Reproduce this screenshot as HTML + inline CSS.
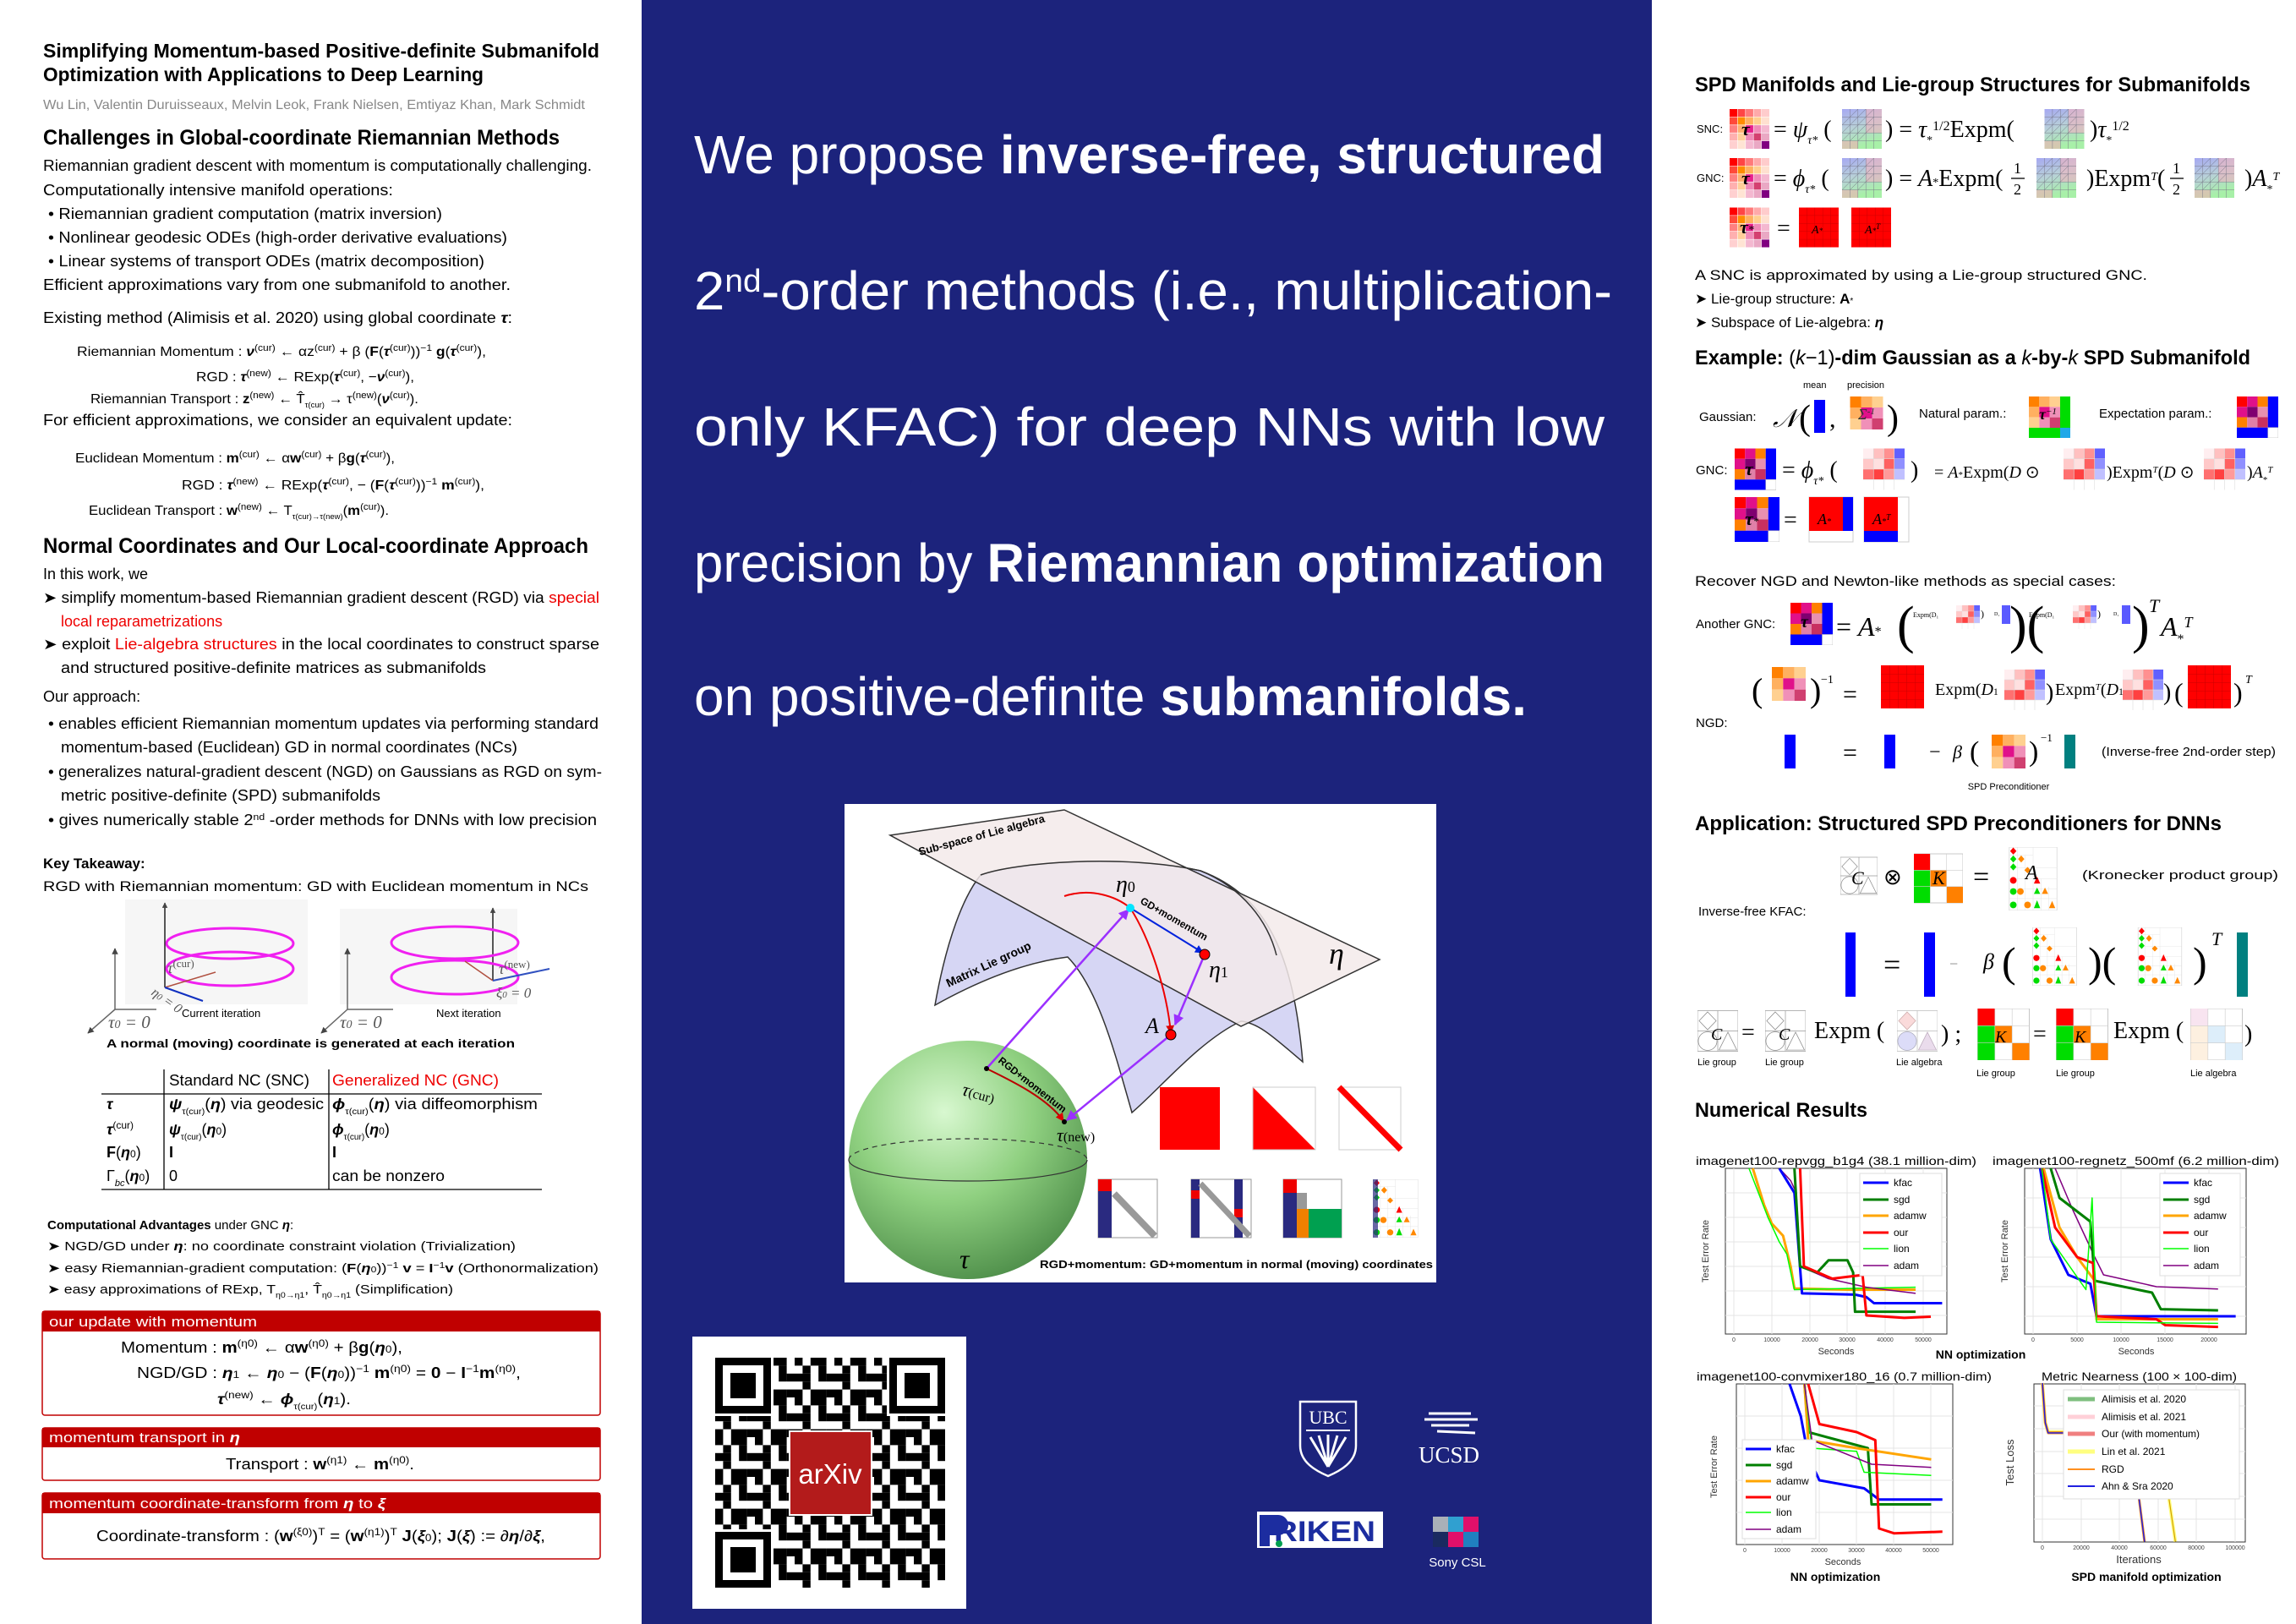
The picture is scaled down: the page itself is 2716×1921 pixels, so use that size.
<!DOCTYPE html>
<html><head><meta charset="utf-8"><style>
html,body{margin:0;padding:0;background:#fff}
body{width:2716px;height:1921px;overflow:hidden;position:relative}
svg{position:absolute;left:0;top:0}
</style></head><body>
<svg width="2716" height="1921" viewBox="0 0 2716 1921" xmlns="http://www.w3.org/2000/svg" font-family="Liberation Sans, sans-serif">
<defs>
<path id="g5" d="M1 0V5M2 0V5M3 0V5M4 0V5M0 1H5M0 2H5M0 3H5M0 4H5" fill="none"/>
<symbol id="tau" viewBox="0 0 5 5">
<rect x="0" y="0" width="1" height="1" fill="#ff0000"/><rect x="1" y="0" width="1" height="1" fill="#ff4545"/><rect x="2" y="0" width="1" height="1" fill="#ff7a7a"/><rect x="3" y="0" width="1" height="1" fill="#ffaaaa"/><rect x="4" y="0" width="1" height="1" fill="#ffcccc"/>
<rect x="0" y="1" width="1" height="1" fill="#ff4a3a"/><rect x="1" y="1" width="1" height="1" fill="#ff8c00"/><rect x="2" y="1" width="1" height="1" fill="#ffb060"/><rect x="3" y="1" width="1" height="1" fill="#ffcf90"/><rect x="4" y="1" width="1" height="1" fill="#ffe0d0"/>
<rect x="0" y="2" width="1" height="1" fill="#ff8080"/><rect x="1" y="2" width="1" height="1" fill="#ffb070"/><rect x="2" y="2" width="1" height="1" fill="#e8208c"/><rect x="3" y="2" width="1" height="1" fill="#f08ab8"/><rect x="4" y="2" width="1" height="1" fill="#f4b8d0"/>
<rect x="0" y="3" width="1" height="1" fill="#ffb0b0"/><rect x="1" y="3" width="1" height="1" fill="#ffcf9a"/><rect x="2" y="3" width="1" height="1" fill="#f08ab8"/><rect x="3" y="3" width="1" height="1" fill="#d44070"/><rect x="4" y="3" width="1" height="1" fill="#eaa8c4"/>
<rect x="0" y="4" width="1" height="1" fill="#ffd0d0"/><rect x="1" y="4" width="1" height="1" fill="#ffe4d4"/><rect x="2" y="4" width="1" height="1" fill="#f4b8d0"/><rect x="3" y="4" width="1" height="1" fill="#eaa8c4"/><rect x="4" y="4" width="1" height="1" fill="#800080"/>
<use href="#g5" stroke="#fff" stroke-width="0.06"/>
</symbol>
<linearGradient id="lg" x1="0" y1="0" x2="0.3" y2="1"><stop offset="0" stop-color="#a6a8f2"/><stop offset="0.5" stop-color="#b8d0d8"/><stop offset="1" stop-color="#a8f0a8"/></linearGradient>
<symbol id="lie" viewBox="0 0 5 5">
<rect width="5" height="5" fill="url(#lg)"/>
<rect x="3" y="0" width="2" height="3" fill="#f0b0c0" opacity="0.6"/>
<rect x="0" y="4" width="2" height="1" fill="#f0b0b0" opacity="0.6"/>
<path d="M0 2L2 0M0 3L3 0M0 4L4 0M1 4L4 1M2 4L4 2" stroke="#556" stroke-width="0.04"/>
<use href="#g5" stroke="#778" stroke-width="0.05"/>
</symbol>
<symbol id="red" viewBox="0 0 5 5"><rect width="5" height="5" fill="#ff0000"/><use href="#g5" stroke="#c00" stroke-width="0.05"/></symbol>
<symbol id="pink" viewBox="0 0 4 4">
<rect width="4" height="4" fill="#fff"/>
<rect x="0" y="0" width="1" height="1" fill="#ffeef0"/><rect x="1" y="0" width="1" height="1" fill="#ffc0c0"/><rect x="2" y="0" width="1" height="1" fill="#ff9090"/><rect x="3" y="0" width="1" height="1" fill="#6060ff"/>
<rect x="0" y="1" width="1" height="1" fill="#ffc8c8"/><rect x="1" y="1" width="1" height="1" fill="#ffe0e0"/><rect x="2" y="1" width="1" height="1" fill="#ff6060"/><rect x="3" y="1" width="1" height="1" fill="#9090ff"/>
<rect x="0" y="2" width="1" height="1" fill="#ff7070"/><rect x="1" y="2" width="1" height="1" fill="#ff4040"/><rect x="2" y="2" width="1" height="1" fill="#ff9a9a"/><rect x="3" y="2" width="1" height="1" fill="#c0c0ff"/>
<path d="M1 0V4M2 0V4M3 0V4M0 1H4M0 2H4M0 3H4" stroke="#ddd" stroke-width="0.05"/>
</symbol>
<symbol id="g4" viewBox="0 0 4 4">
<rect width="4" height="4" fill="#fff"/>
<rect x="0" y="0" width="1" height="1" fill="#ff0000"/><rect x="1" y="0" width="1" height="1" fill="#e0108a"/><rect x="2" y="0" width="1" height="1" fill="#ff8000"/>
<rect x="0" y="1" width="1" height="1" fill="#e0108a"/><rect x="1" y="1" width="1" height="1" fill="#800070"/><rect x="2" y="1" width="1" height="1" fill="#e890b0"/>
<rect x="0" y="2" width="1" height="1" fill="#ff8000"/><rect x="1" y="2" width="1" height="1" fill="#e080a8"/><rect x="2" y="2" width="1" height="1" fill="#c83060"/>
<rect x="3" y="0" width="1" height="3" fill="#0000ff"/><rect x="0" y="3" width="3" height="1" fill="#0000ff"/>
<rect x="3" y="3" width="1" height="1" fill="#fff" stroke="#bbb" stroke-width="0.05"/>
</symbol>
<symbol id="pre" viewBox="0 0 3 3">
<rect x="0" y="0" width="1" height="1" fill="#ff8000"/><rect x="1" y="0" width="1" height="1" fill="#ffb060"/><rect x="2" y="0" width="1" height="1" fill="#ffd090"/>
<rect x="0" y="1" width="1" height="1" fill="#ffb060"/><rect x="1" y="1" width="1" height="1" fill="#e0108a"/><rect x="2" y="1" width="1" height="1" fill="#f090b8"/>
<rect x="0" y="2" width="1" height="1" fill="#ffd090"/><rect x="1" y="2" width="1" height="1" fill="#f090b8"/><rect x="2" y="2" width="1" height="1" fill="#d04070"/>
</symbol>
<symbol id="Cm" viewBox="0 0 10 10">
<rect width="10" height="10" fill="#fff" stroke="#999" stroke-width="0.15"/>
<path d="M5 0V10M0 5H10" stroke="#999" stroke-width="0.15"/>
<path d="M2.5 0.3L4.6 2.5L2.5 4.7L0.4 2.5Z" fill="none" stroke="#888" stroke-width="0.15"/>
<circle cx="2.5" cy="7.5" r="2.3" fill="none" stroke="#888" stroke-width="0.15"/>
<path d="M7.5 5.3L9.7 9.7H5.3Z" fill="none" stroke="#888" stroke-width="0.15"/>
</symbol>
<symbol id="Cl" viewBox="0 0 10 10">
<rect width="10" height="10" fill="#fff" stroke="#bbb" stroke-width="0.15"/>
<path d="M5 0V10M0 5H10" stroke="#bbb" stroke-width="0.15"/>
<path d="M2.5 0.3L4.6 2.5L2.5 4.7L0.4 2.5Z" fill="#fadada" stroke="#caa" stroke-width="0.15"/>
<circle cx="2.5" cy="7.5" r="2.3" fill="#dcdcf8" stroke="#aab" stroke-width="0.15"/>
<path d="M7.5 5.3L9.7 9.7H5.3Z" fill="#eadcec" stroke="#bab" stroke-width="0.15"/>
</symbol>
<symbol id="Km" viewBox="0 0 3 3">
<rect width="3" height="3" fill="#fff" stroke="#bbb" stroke-width="0.04"/>
<rect x="0" y="0" width="1" height="1" fill="#ff0000"/><rect x="0" y="1" width="1" height="2" fill="#00dd00"/>
<rect x="1" y="1" width="1" height="1" fill="#ff8000"/><rect x="2" y="2" width="1" height="1" fill="#ff8000"/>
<path d="M1 0V3M2 0V3M0 1H3M0 2H3" stroke="#ccc" stroke-width="0.03"/>
</symbol>
<symbol id="Kl" viewBox="0 0 3 3">
<rect width="3" height="3" fill="#fff" stroke="#bbb" stroke-width="0.04"/>
<rect x="0" y="0" width="1" height="1" fill="#f8e4f0"/><rect x="0" y="1" width="1" height="2" fill="#fdf0e0"/>
<rect x="1" y="1" width="1" height="1" fill="#ddeefa"/><rect x="2" y="2" width="1" height="1" fill="#ddeefa"/>
<path d="M1 0V3M2 0V3M0 1H3M0 2H3" stroke="#ccc" stroke-width="0.03"/>
</symbol>
<symbol id="Am" viewBox="0 0 6 8">
<rect width="6" height="8" fill="#fff" stroke="#bbb" stroke-width="0.05"/>
<path d="M3 0V8M0 2.6H6M0 5.3H6M1 0V8M2 1V8M4 4V8M5 5V8M0 1H3M0 4H6M0 6.5H6" stroke="#ddd" stroke-width="0.04"/>
<path d="M0.5 0.05L0.9 0.5L0.5 0.95L0.1 0.5Z" fill="#f00"/>
<path d="M0.5 1.05L0.9 1.5L0.5 1.95L0.1 1.5Z" fill="#0d0"/><path d="M1.5 1.05L1.9 1.5L1.5 1.95L1.1 1.5Z" fill="#f80"/>
<path d="M0.5 2.05L0.9 2.5L0.5 2.95L0.1 2.5Z" fill="#0d0"/><path d="M2.3 2.5L2.7 2.9L2.3 3.3L1.9 2.9Z" fill="#f80"/>
<circle cx="0.5" cy="4.2" r="0.42" fill="#f00"/><path d="M3.5 3.7L3.9 4.6H3.1Z" fill="#f00"/>
<circle cx="0.5" cy="5.6" r="0.42" fill="#0d0"/><circle cx="1.4" cy="5.6" r="0.42" fill="#f80"/><path d="M3.5 5.1L3.9 5.9H3.1Z" fill="#0d0"/><path d="M4.5 5.1L4.9 5.9H4.1Z" fill="#f80"/>
<circle cx="0.5" cy="7.3" r="0.42" fill="#0d0"/><circle cx="2.3" cy="7.3" r="0.42" fill="#f80"/><path d="M3.5 6.7L3.9 7.7H3.1Z" fill="#0d0"/><path d="M5.4 6.8L5.8 7.7H5Z" fill="#f80"/>
</symbol>
<pattern id="qr" x="846" y="1606" width="47" height="47" patternUnits="userSpaceOnUse">
<rect x="0" y="0" width="9.4" height="9.4"/><rect x="18.8" y="0" width="18.8" height="9.4"/><rect x="9.4" y="9.4" width="9.4" height="9.4"/><rect x="28.2" y="9.4" width="9.4" height="18.8"/><rect x="0" y="18.8" width="18.8" height="9.4"/><rect x="37.6" y="18.8" width="9.4" height="9.4"/><rect x="9.4" y="28.2" width="9.4" height="9.4"/><rect x="18.8" y="37.6" width="18.8" height="9.4"/><rect x="0" y="37.6" width="9.4" height="9.4"/><rect x="37.6" y="37.6" width="9.4" height="9.4"/>
</pattern>
<radialGradient id="sph" cx="0.4" cy="0.3" r="0.75"><stop offset="0" stop-color="#d8f8d0"/><stop offset="0.5" stop-color="#8fd080"/><stop offset="1" stop-color="#4c8c48"/></radialGradient>
<marker id="ap" viewBox="0 0 10 10" refX="9" refY="5" markerWidth="5" markerHeight="5" orient="auto"><path d="M0 0L10 5L0 10Z" fill="#9b30ff"/></marker>
<marker id="ab" viewBox="0 0 10 10" refX="9" refY="5" markerWidth="5" markerHeight="5" orient="auto"><path d="M0 0L10 5L0 10Z" fill="#0022dd"/></marker>
<marker id="ar" viewBox="0 0 10 10" refX="9" refY="5" markerWidth="5" markerHeight="5" orient="auto"><path d="M0 0L10 5L0 10Z" fill="#d00"/></marker>
<marker id="ak" viewBox="0 0 10 10" refX="9" refY="5" markerWidth="5" markerHeight="5" orient="auto"><path d="M0 0L10 5L0 10Z" fill="#444"/></marker>
</defs>

<!-- middle panel -->
<rect x="759" y="0" width="1195" height="1921" fill="#1c237c"/>
<g fill="#fff" font-size="64">
<text x="821" y="205" textLength="1077" lengthAdjust="spacingAndGlyphs">We propose <tspan font-weight="bold">inverse-free, structured</tspan></text>
<text x="821" y="366" textLength="1086" lengthAdjust="spacingAndGlyphs">2<tspan font-size="38" baseline-shift="super">nd</tspan>-order methods (i.e., multiplication-</text>
<text x="821" y="527" textLength="1077" lengthAdjust="spacingAndGlyphs">only  KFAC)  for  deep  NNs  with  low</text>
<text x="821" y="688" textLength="1077" lengthAdjust="spacingAndGlyphs">precision by <tspan font-weight="bold">Riemannian optimization</tspan></text>
<text x="821" y="846" textLength="985" lengthAdjust="spacingAndGlyphs">on positive-definite <tspan font-weight="bold">submanifolds.</tspan></text>
</g>

<!-- middle figure -->
<rect x="999" y="951" width="700" height="566" fill="#fff"/>
<path d="M1106 1189 C1120 1110 1140 1060 1160 1035 C1200 1020 1330 1010 1420 1030 C1500 1060 1530 1130 1541 1256 C1510 1230 1490 1210 1468 1208 C1420 1230 1370 1290 1339 1316 C1320 1250 1300 1170 1263 1132 C1200 1140 1140 1170 1106 1189Z" fill="#d6d6f4" stroke="#333" stroke-width="1.5"/>
<path d="M1053 988 L1259 958 L1632 1135 L1468 1214 Z" fill="#f3eaea" fill-opacity="0.85" stroke="#333" stroke-width="1.5"/>
<path d="M1160 1035 C1200 1020 1330 1010 1420 1030 C1470 1050 1500 1090 1510 1130" fill="none" stroke="#333" stroke-width="1.5"/>
<text x="1088" y="1012" font-size="13" font-weight="bold" transform="rotate(-15 1088 1012)">Sub-space of Lie algebra</text>
<text x="1122" y="1168" font-size="14" font-weight="bold" transform="rotate(-25 1122 1168)">Matrix Lie group</text>
<text x="1320" y="1055" font-size="28" font-family="Liberation Serif, serif" font-style="italic">η<tspan font-size="18" font-style="normal">0</tspan></text>
<text x="1430" y="1156" font-size="28" font-family="Liberation Serif, serif" font-style="italic">η<tspan font-size="18" font-style="normal">1</tspan></text>
<text x="1572" y="1140" font-size="36" font-family="Liberation Serif, serif" font-style="italic">η</text>
<text x="1355" y="1222" font-size="26" font-family="Liberation Serif, serif" font-style="italic">A</text>
<circle cx="1145" cy="1372" r="141" fill="url(#sph)"/>
<path d="M1004 1372 A141 25 0 0 1 1286 1372" fill="none" stroke="#333" stroke-width="1.2" stroke-dasharray="6 5"/>
<path d="M1004 1372 A141 25 0 0 0 1286 1372" fill="none" stroke="#333" stroke-width="1.2"/>
<path d="M1259 1060 C1290 1050 1320 1060 1337 1074 C1360 1110 1380 1170 1385 1222" fill="none" stroke="#e00" stroke-width="2" marker-end="url(#ar)"/>
<path d="M1167 1264 L1335 1076" stroke="#9b30ff" stroke-width="2.5" marker-end="url(#ap)"/>
<path d="M1337 1074 L1423 1127" stroke="#0022dd" stroke-width="2" marker-end="url(#ab)"/>
<path d="M1425 1129 L1390 1212" stroke="#9b30ff" stroke-width="2.5" marker-end="url(#ap)"/>
<path d="M1385 1224 L1262 1325" stroke="#9b30ff" stroke-width="2.5" marker-end="url(#ap)"/>
<path d="M1167 1264 C1200 1280 1240 1300 1258 1326" fill="none" stroke="#b00" stroke-width="2" marker-end="url(#ar)"/>
<circle cx="1337" cy="1074" r="5" fill="#00e5ff"/>
<circle cx="1425" cy="1129" r="6" fill="#f00" stroke="#000"/>
<circle cx="1385" cy="1224" r="6" fill="#f00" stroke="#000"/>
<circle cx="1167" cy="1264" r="3" fill="#000"/><circle cx="1259" cy="1327" r="3" fill="#000"/>
<text x="1348" y="1068" font-size="12" font-weight="bold" transform="rotate(30 1348 1068)">GD+momentum</text>
<text x="1180" y="1256" font-size="12" font-weight="bold" transform="rotate(38 1180 1256)">RGD+momentum</text>
<text x="1137" y="1295" font-size="22" font-family="Liberation Serif, serif" font-style="italic" transform="rotate(15 1137 1295)">τ<tspan font-size="16" font-style="normal">(cur)</tspan></text>
<text x="1250" y="1350" font-size="22" font-family="Liberation Serif, serif" font-style="italic">τ<tspan font-size="16" font-style="normal">(new)</tspan></text>
<text x="1135" y="1500" font-size="32" font-family="Liberation Serif, serif" font-style="italic">τ</text>
<rect x="1372" y="1286" width="71" height="74" fill="#f00"/>
<path d="M1482 1286 V1360 H1556 Z" fill="#f00"/>
<rect x="1482" y="1286" width="74" height="74" fill="none" stroke="#ccc"/>
<rect x="1584" y="1286" width="73" height="74" fill="none" stroke="#ccc"/>
<path d="M1584 1286 L1657 1360" stroke="#f00" stroke-width="7"/>
<rect x="1299" y="1395" width="70" height="69" fill="#fff" stroke="#999"/><rect x="1299" y="1395" width="16" height="14" fill="#e00"/><rect x="1299" y="1409" width="16" height="55" fill="#2a2a80"/><path d="M1318 1412 L1366 1462" stroke="#999" stroke-width="8"/>
<rect x="1409" y="1395" width="71" height="69" fill="#fff" stroke="#999"/><rect x="1409" y="1395" width="10" height="69" fill="#2a2a80"/><rect x="1460" y="1395" width="10" height="69" fill="#2a2a80"/><rect x="1409" y="1408" width="10" height="10" fill="#e00"/><rect x="1460" y="1430" width="10" height="10" fill="#e00"/><path d="M1420 1400 L1478 1462" stroke="#999" stroke-width="7"/>
<rect x="1518" y="1395" width="69" height="69" fill="#fff" stroke="#999"/><rect x="1518" y="1395" width="16" height="16" fill="#e00"/><rect x="1518" y="1411" width="16" height="53" fill="#2a2a80"/><rect x="1534" y="1430" width="14" height="34" fill="#f08000"/><rect x="1548" y="1430" width="39" height="34" fill="#00a050"/><rect x="1534" y="1411" width="12" height="19" fill="#999"/>
<g transform="translate(1624 1395) scale(8.9 8.6)"><use href="#Am" width="6" height="8"/></g>
<rect x="1624" y="1395" width="6" height="69" fill="#2a2a80" opacity="0.7"/>
<text x="1230" y="1500" font-size="13" font-weight="bold" textLength="465" lengthAdjust="spacingAndGlyphs">RGD+momentum: GD+momentum in normal (moving) coordinates</text>

<!-- QR -->
<rect x="819" y="1581" width="324" height="322" fill="#fff"/>
<rect x="846" y="1606" width="272" height="272" fill="url(#qr)"/>
<g>
<rect x="843" y="1603" width="72" height="72" fill="#fff"/><rect x="846" y="1606" width="66" height="66"/><rect x="855" y="1615" width="48" height="48" fill="#fff"/><rect x="864" y="1624" width="30" height="30"/>
<rect x="1049" y="1603" width="72" height="72" fill="#fff"/><rect x="1052" y="1606" width="66" height="66"/><rect x="1061" y="1615" width="48" height="48" fill="#fff"/><rect x="1070" y="1624" width="30" height="30"/>
<rect x="843" y="1809" width="72" height="72" fill="#fff"/><rect x="846" y="1812" width="66" height="66"/><rect x="855" y="1821" width="48" height="48" fill="#fff"/><rect x="864" y="1830" width="30" height="30"/>
</g>
<rect x="934" y="1693" width="97" height="99" fill="#b31b1b" stroke="#fff" stroke-width="2"/>
<text x="982" y="1755" font-size="33" fill="#fff" text-anchor="middle">arXiv</text>

<!-- logos -->
<path d="M1538 1658 H1604 V1710 C1604 1730 1585 1740 1571 1746 C1557 1740 1538 1730 1538 1710 Z" fill="none" stroke="#fff" stroke-width="2.5"/>
<text x="1571" y="1684" font-size="22" fill="#fff" text-anchor="middle" font-family="Liberation Serif, serif">UBC</text>
<path d="M1571 1735 L1550 1700 M1571 1735 L1560 1698 M1571 1735 L1571 1697 M1571 1735 L1582 1698 M1571 1735 L1592 1700" stroke="#fff" stroke-width="3"/>
<path d="M1545 1692 H1597" stroke="#fff" stroke-width="2"/>
<path d="M1690 1672 H1740 M1685 1679 H1748 M1693 1686 H1738 M1700 1693 L1745 1695" stroke="#fff" stroke-width="3"/>
<text x="1714" y="1730" font-size="27" fill="#fff" text-anchor="middle" font-family="Liberation Serif, serif">UCSD</text>
<rect x="1487" y="1788" width="149" height="43" fill="#fff"/>
<text x="1567" y="1823" font-size="34" font-weight="bold" fill="#1c2da0" text-anchor="middle" textLength="120" lengthAdjust="spacingAndGlyphs">RIKEN</text>
<path d="M1490 1792 h22 a12 12 0 0 1 0 24 h-10 v13 h-12 z" fill="#1c2da0"/><circle cx="1513" cy="1826" r="4" fill="#00a050"/>
<g transform="translate(1695 1794)">
<rect x="0" y="0" width="18" height="18" fill="#aab0b8"/><rect x="18" y="0" width="18" height="18" fill="#30a0d0"/><rect x="36" y="0" width="18" height="18" fill="#e0106a"/>
<rect x="0" y="18" width="18" height="18" fill="#1a2a60"/><rect x="18" y="18" width="18" height="18" fill="#e0106a"/><rect x="36" y="18" width="18" height="18" fill="#2080c0"/>
</g>
<text x="1724" y="1853" font-size="15" fill="#fff" text-anchor="middle">Sony CSL</text>

<!-- ================= LEFT COLUMN ================= -->
<g fill="#000">
<text x="51" y="68" font-size="23" font-weight="bold" textLength="658" lengthAdjust="spacingAndGlyphs">Simplifying  Momentum-based  Positive-definite  Submanifold</text>
<text x="51" y="96" font-size="23" font-weight="bold" textLength="521" lengthAdjust="spacingAndGlyphs">Optimization with Applications to Deep Learning</text>
<text x="51" y="129" font-size="16" fill="#888" textLength="641" lengthAdjust="spacingAndGlyphs">Wu Lin, Valentin Duruisseaux, Melvin Leok, Frank Nielsen, Emtiyaz Khan, Mark Schmidt</text>
<text x="51" y="171" font-size="25" font-weight="bold" textLength="611" lengthAdjust="spacingAndGlyphs">Challenges in Global-coordinate Riemannian Methods</text>
<g font-size="18">
<text x="51" y="202" textLength="649" lengthAdjust="spacingAndGlyphs">Riemannian gradient descent with momentum is computationally challenging.</text>
<text x="51" y="231" textLength="414" lengthAdjust="spacingAndGlyphs">Computationally intensive manifold operations:</text>
<text x="57" y="259" textLength="466" lengthAdjust="spacingAndGlyphs">• Riemannian gradient computation (matrix inversion)</text>
<text x="57" y="287" textLength="543" lengthAdjust="spacingAndGlyphs">• Nonlinear geodesic ODEs (high-order derivative evaluations)</text>
<text x="57" y="315" textLength="516" lengthAdjust="spacingAndGlyphs">• Linear systems of transport ODEs (matrix decomposition)</text>
<text x="51" y="343" textLength="553" lengthAdjust="spacingAndGlyphs">Efficient approximations vary from one submanifold to another.</text>
<text x="51" y="382" textLength="555" lengthAdjust="spacingAndGlyphs">Existing method (Alimisis et al. 2020) using global coordinate <tspan font-weight="bold" font-style="italic">τ</tspan>:</text>
<text x="51" y="503" textLength="555" lengthAdjust="spacingAndGlyphs">For efficient approximations, we consider an equivalent update:</text>
</g>
<g font-size="16">
<text x="91" y="421" textLength="484" lengthAdjust="spacingAndGlyphs">Riemannian Momentum : <tspan font-weight="bold" font-style="italic">ν</tspan><tspan font-size="11" baseline-shift="super">(cur)</tspan> ← αz<tspan font-size="11" baseline-shift="super">(cur)</tspan> + β (<tspan font-weight="bold">F</tspan>(<tspan font-weight="bold" font-style="italic">τ</tspan><tspan font-size="11" baseline-shift="super">(cur)</tspan>))<tspan font-size="11" baseline-shift="super">−1</tspan> <tspan font-weight="bold">g</tspan>(<tspan font-weight="bold" font-style="italic">τ</tspan><tspan font-size="11" baseline-shift="super">(cur)</tspan>),</text>
<text x="232" y="451" textLength="258" lengthAdjust="spacingAndGlyphs">RGD : <tspan font-weight="bold" font-style="italic">τ</tspan><tspan font-size="11" baseline-shift="super">(new)</tspan> ← RExp(<tspan font-weight="bold" font-style="italic">τ</tspan><tspan font-size="11" baseline-shift="super">(cur)</tspan>, −<tspan font-weight="bold" font-style="italic">ν</tspan><tspan font-size="11" baseline-shift="super">(cur)</tspan>),</text>
<text x="107" y="477" textLength="388" lengthAdjust="spacingAndGlyphs">Riemannian Transport : <tspan font-weight="bold">z</tspan><tspan font-size="11" baseline-shift="super">(new)</tspan> ← T̂<tspan font-size="9" baseline-shift="sub">τ(cur)</tspan> → τ<tspan font-size="11" baseline-shift="super">(new)</tspan>(<tspan font-weight="bold" font-style="italic">ν</tspan><tspan font-size="11" baseline-shift="super">(cur)</tspan>).</text>
<text x="89" y="547" textLength="378" lengthAdjust="spacingAndGlyphs">Euclidean Momentum : <tspan font-weight="bold">m</tspan><tspan font-size="11" baseline-shift="super">(cur)</tspan> ← α<tspan font-weight="bold">w</tspan><tspan font-size="11" baseline-shift="super">(cur)</tspan> + β<tspan font-weight="bold">g</tspan>(<tspan font-weight="bold" font-style="italic">τ</tspan><tspan font-size="11" baseline-shift="super">(cur)</tspan>),</text>
<text x="215" y="579" textLength="358" lengthAdjust="spacingAndGlyphs">RGD : <tspan font-weight="bold" font-style="italic">τ</tspan><tspan font-size="11" baseline-shift="super">(new)</tspan> ← RExp(<tspan font-weight="bold" font-style="italic">τ</tspan><tspan font-size="11" baseline-shift="super">(cur)</tspan>, − (<tspan font-weight="bold">F</tspan>(<tspan font-weight="bold" font-style="italic">τ</tspan><tspan font-size="11" baseline-shift="super">(cur)</tspan>))<tspan font-size="11" baseline-shift="super">−1</tspan> <tspan font-weight="bold">m</tspan><tspan font-size="11" baseline-shift="super">(cur)</tspan>),</text>
<text x="105" y="609" textLength="355" lengthAdjust="spacingAndGlyphs">Euclidean Transport : <tspan font-weight="bold">w</tspan><tspan font-size="11" baseline-shift="super">(new)</tspan> ← T<tspan font-size="9" baseline-shift="sub">τ(cur)→τ(new)</tspan>(<tspan font-weight="bold">m</tspan><tspan font-size="11" baseline-shift="super">(cur)</tspan>).</text>
</g>
<text x="51" y="654" font-size="25" font-weight="bold" textLength="645" lengthAdjust="spacingAndGlyphs">Normal Coordinates and Our Local-coordinate Approach</text>
<g font-size="18">
<text x="51" y="685">In this work, we</text>
<text x="51" y="713" textLength="658" lengthAdjust="spacingAndGlyphs">➤ simplify momentum-based Riemannian gradient descent (RGD) via <tspan fill="#e00">special</tspan></text>
<text x="72" y="741" fill="#e00">local reparametrizations</text>
<text x="51" y="768" textLength="658" lengthAdjust="spacingAndGlyphs">➤ exploit <tspan fill="#e00">Lie-algebra structures</tspan> in the local coordinates to construct sparse</text>
<text x="72" y="796" textLength="503" lengthAdjust="spacingAndGlyphs">and structured positive-definite matrices as submanifolds</text>
<text x="51" y="830">Our approach:</text>
<text x="57" y="862" textLength="651" lengthAdjust="spacingAndGlyphs">• enables efficient Riemannian momentum updates via performing standard</text>
<text x="72" y="890" textLength="540" lengthAdjust="spacingAndGlyphs">momentum-based (Euclidean) GD in normal coordinates (NCs)</text>
<text x="57" y="919" textLength="655" lengthAdjust="spacingAndGlyphs">• generalizes natural-gradient descent (NGD) on Gaussians as RGD on sym-</text>
<text x="72" y="947" textLength="378" lengthAdjust="spacingAndGlyphs">metric positive-definite (SPD) submanifolds</text>
<text x="57" y="976" textLength="649" lengthAdjust="spacingAndGlyphs">• gives numerically stable 2<tspan font-size="11" baseline-shift="super">nd</tspan> -order methods for DNNs with low precision</text>
</g>
<text x="51" y="1027" font-size="17" font-weight="bold">Key Takeaway:</text>
<text x="51" y="1054" font-size="17" textLength="645" lengthAdjust="spacingAndGlyphs">RGD with Riemannian momentum: GD with Euclidean momentum in NCs</text>
</g>

<!-- spiral figures -->
<rect x="148" y="1064" width="216" height="124" fill="#f6f6f6"/>
<rect x="402" y="1075" width="210" height="113" fill="#f6f6f6"/>
<g stroke="#666" stroke-width="1.5" fill="none">
<path d="M136 1194 V1122" marker-end="url(#ak)"/><path d="M136 1194 H185" /><path d="M136 1194 L104 1222" marker-end="url(#ak)"/>
<path d="M411 1194 V1122" marker-end="url(#ak)"/><path d="M411 1194 H465"/><path d="M411 1194 L380 1222" marker-end="url(#ak)"/>
</g>
<path d="M195 1168 V1068" stroke="#000" stroke-width="1.3" marker-end="url(#ak)"/>
<path d="M583 1160 V1074" stroke="#000" stroke-width="1.3" marker-end="url(#ak)"/>
<g fill="none" stroke="#f020f0" stroke-width="3">
<ellipse cx="272" cy="1116" rx="75" ry="18"/><ellipse cx="272" cy="1146" rx="75" ry="20"/>
<ellipse cx="538" cy="1115" rx="75" ry="19"/><ellipse cx="538" cy="1156" rx="75" ry="20"/>
</g>
<path d="M195 1168 L255 1150" stroke="#b05040" stroke-width="1.5"/>
<path d="M195 1168 L240 1184" stroke="#1030c0" stroke-width="2"/>
<path d="M583 1160 L550 1137" stroke="#b05040" stroke-width="1.5"/>
<path d="M583 1160 L650 1146" stroke="#3050c0" stroke-width="2"/>
<g font-family="Liberation Serif, serif" font-style="italic" fill="#555">
<text x="198" y="1151" font-size="18">τ<tspan font-size="13" font-style="normal" baseline-shift="super">(cur)</tspan></text>
<text x="178" y="1176" font-size="16" transform="rotate(35 178 1176)">η<tspan font-size="11">0</tspan> = 0</text>
<text x="128" y="1216" font-size="21">τ<tspan font-size="14">0</tspan> = 0</text>
<text x="402" y="1216" font-size="21">τ<tspan font-size="14">0</tspan> = 0</text>
<text x="590" y="1152" font-size="18">τ<tspan font-size="13" font-style="normal" baseline-shift="super">(new)</tspan></text>
<text x="587" y="1180" font-size="17">ξ<tspan font-size="11">0</tspan> = 0</text>
</g>
<text x="215" y="1203" font-size="13">Current iteration</text>
<text x="516" y="1203" font-size="13">Next iteration</text>
<text x="126" y="1239" font-size="14" font-weight="bold" textLength="483" lengthAdjust="spacingAndGlyphs">A normal (moving) coordinate is generated at each iteration</text>

<!-- table -->
<g stroke="#000" stroke-width="1.3">
<path d="M120 1294 H641 M120 1407 H641 M194 1265 V1407 M389 1265 V1407"/>
</g>
<g font-size="18">
<text x="200" y="1284" textLength="166" lengthAdjust="spacingAndGlyphs">Standard NC (SNC)</text>
<text x="393" y="1284" fill="#e00" textLength="197" lengthAdjust="spacingAndGlyphs">Generalized NC (GNC)</text>
<text x="126" y="1312" font-weight="bold" font-style="italic">τ</text>
<text x="200" y="1312" textLength="183" lengthAdjust="spacingAndGlyphs"><tspan font-weight="bold" font-style="italic">ψ</tspan><tspan font-size="10" baseline-shift="sub">τ(cur)</tspan>(<tspan font-weight="bold" font-style="italic">η</tspan>) via geodesic</text>
<text x="393" y="1312" textLength="243" lengthAdjust="spacingAndGlyphs"><tspan font-weight="bold" font-style="italic">ϕ</tspan><tspan font-size="10" baseline-shift="sub">τ(cur)</tspan>(<tspan font-weight="bold" font-style="italic">η</tspan>) via diffeomorphism</text>
<text x="126" y="1342"><tspan font-weight="bold" font-style="italic">τ</tspan><tspan font-size="12" baseline-shift="super">(cur)</tspan></text>
<text x="200" y="1342"><tspan font-weight="bold" font-style="italic">ψ</tspan><tspan font-size="10" baseline-shift="sub">τ(cur)</tspan>(<tspan font-weight="bold" font-style="italic">η</tspan><tspan font-size="12">0</tspan>)</text>
<text x="393" y="1342"><tspan font-weight="bold" font-style="italic">ϕ</tspan><tspan font-size="10" baseline-shift="sub">τ(cur)</tspan>(<tspan font-weight="bold" font-style="italic">η</tspan><tspan font-size="12">0</tspan>)</text>
<text x="126" y="1369"><tspan font-weight="bold">F</tspan>(<tspan font-weight="bold" font-style="italic">η</tspan><tspan font-size="12">0</tspan>)</text>
<text x="200" y="1369" font-weight="bold">I</text><text x="393" y="1369" font-weight="bold">I</text>
<text x="126" y="1397">Γ<tspan font-size="11" baseline-shift="sub" font-style="italic">bc</tspan>(<tspan font-weight="bold" font-style="italic">η</tspan><tspan font-size="12">0</tspan>)</text>
<text x="200" y="1397">0</text><text x="393" y="1397" textLength="133" lengthAdjust="spacingAndGlyphs">can be nonzero</text>
</g>
<g font-size="15">
<text x="56" y="1454"><tspan font-weight="bold">Computational Advantages</tspan> under GNC <tspan font-weight="bold" font-style="italic">η</tspan>:</text>
<text x="56" y="1479" textLength="554" lengthAdjust="spacingAndGlyphs">➤ NGD/GD under <tspan font-weight="bold" font-style="italic">η</tspan>: no coordinate constraint violation (Trivialization)</text>
<text x="56" y="1505" textLength="652" lengthAdjust="spacingAndGlyphs">➤ easy Riemannian-gradient computation: (<tspan font-weight="bold">F</tspan>(<tspan font-weight="bold" font-style="italic">η</tspan><tspan font-size="10">0</tspan>))<tspan font-size="10" baseline-shift="super">−1</tspan> <tspan font-weight="bold">v</tspan> = <tspan font-weight="bold">I</tspan><tspan font-size="10" baseline-shift="super">−1</tspan><tspan font-weight="bold">v</tspan> (Orthonormalization)</text>
<text x="56" y="1530" textLength="480" lengthAdjust="spacingAndGlyphs">➤ easy approximations of RExp, T<tspan font-size="9" baseline-shift="sub">η0→η1</tspan>, T̂<tspan font-size="9" baseline-shift="sub">η0→η1</tspan> (Simplification)</text>
</g>
<!-- red boxes -->
<g fill="none" stroke="#c00000" stroke-width="1.5">
<rect x="50" y="1551" width="660" height="123" rx="3"/>
<rect x="50" y="1689" width="660" height="62" rx="3"/>
<rect x="50" y="1766" width="660" height="78" rx="3"/>
</g>
<rect x="50" y="1551" width="660" height="24" fill="#c00000"/>
<rect x="50" y="1689" width="660" height="23" fill="#c00000"/>
<rect x="50" y="1766" width="660" height="24" fill="#c00000"/>
<g font-size="17" fill="#fff">
<text x="58" y="1569" textLength="246" lengthAdjust="spacingAndGlyphs">our update with momentum</text>
<text x="58" y="1706" textLength="226" lengthAdjust="spacingAndGlyphs">momentum transport in <tspan font-weight="bold" font-style="italic">η</tspan></text>
<text x="58" y="1784" textLength="398" lengthAdjust="spacingAndGlyphs">momentum coordinate-transform from <tspan font-weight="bold" font-style="italic">η</tspan> to <tspan font-weight="bold" font-style="italic">ξ</tspan></text>
</g>
<g font-size="18">
<text x="143" y="1600" textLength="333" lengthAdjust="spacingAndGlyphs">Momentum : <tspan font-weight="bold">m</tspan><tspan font-size="12" baseline-shift="super">(η0)</tspan> ← α<tspan font-weight="bold">w</tspan><tspan font-size="12" baseline-shift="super">(η0)</tspan> + β<tspan font-weight="bold">g</tspan>(<tspan font-weight="bold" font-style="italic">η</tspan><tspan font-size="12">0</tspan>),</text>
<text x="162" y="1630" textLength="454" lengthAdjust="spacingAndGlyphs">NGD/GD : <tspan font-weight="bold" font-style="italic">η</tspan><tspan font-size="12">1</tspan> ← <tspan font-weight="bold" font-style="italic">η</tspan><tspan font-size="12">0</tspan> − (<tspan font-weight="bold">F</tspan>(<tspan font-weight="bold" font-style="italic">η</tspan><tspan font-size="12">0</tspan>))<tspan font-size="12" baseline-shift="super">−1</tspan> <tspan font-weight="bold">m</tspan><tspan font-size="12" baseline-shift="super">(η0)</tspan> = <tspan font-weight="bold">0</tspan> − <tspan font-weight="bold">I</tspan><tspan font-size="12" baseline-shift="super">−1</tspan><tspan font-weight="bold">m</tspan><tspan font-size="12" baseline-shift="super">(η0)</tspan>,</text>
<text x="257" y="1661" textLength="158" lengthAdjust="spacingAndGlyphs"><tspan font-weight="bold" font-style="italic">τ</tspan><tspan font-size="12" baseline-shift="super">(new)</tspan> ← <tspan font-weight="bold" font-style="italic">ϕ</tspan><tspan font-size="10" baseline-shift="sub">τ(cur)</tspan>(<tspan font-weight="bold" font-style="italic">η</tspan><tspan font-size="12">1</tspan>).</text>
<text x="267" y="1738" textLength="223" lengthAdjust="spacingAndGlyphs">Transport :  <tspan font-weight="bold">w</tspan><tspan font-size="12" baseline-shift="super">(η1)</tspan> ← <tspan font-weight="bold">m</tspan><tspan font-size="12" baseline-shift="super">(η0)</tspan>.</text>
<text x="114" y="1823" textLength="531" lengthAdjust="spacingAndGlyphs">Coordinate-transform : (<tspan font-weight="bold">w</tspan><tspan font-size="12" baseline-shift="super">(ξ0)</tspan>)<tspan font-size="12" baseline-shift="super">T</tspan> = (<tspan font-weight="bold">w</tspan><tspan font-size="12" baseline-shift="super">(η1)</tspan>)<tspan font-size="12" baseline-shift="super">T</tspan> <tspan font-weight="bold">J</tspan>(<tspan font-weight="bold" font-style="italic">ξ</tspan><tspan font-size="12">0</tspan>);  <tspan font-weight="bold">J</tspan>(<tspan font-weight="bold" font-style="italic">ξ</tspan>) := ∂<tspan font-weight="bold" font-style="italic">η</tspan>/∂<tspan font-weight="bold" font-style="italic">ξ</tspan>,</text>
</g>

<!-- ================= RIGHT COLUMN ================= -->
<g font-size="24" font-weight="bold">
<text x="2005" y="108" textLength="657" lengthAdjust="spacingAndGlyphs">SPD Manifolds and Lie-group Structures for Submanifolds</text>
<text x="2005" y="431" textLength="657" lengthAdjust="spacingAndGlyphs">Example: <tspan font-weight="normal">(<tspan font-style="italic">k</tspan>−1)</tspan>-dim Gaussian as a <tspan font-weight="normal" font-style="italic">k</tspan>-by-<tspan font-weight="normal" font-style="italic">k</tspan> SPD Submanifold</text>
<text x="2005" y="982" textLength="623" lengthAdjust="spacingAndGlyphs">Application: Structured SPD Preconditioners for DNNs</text>
<text x="2005" y="1321" textLength="204" lengthAdjust="spacingAndGlyphs">Numerical Results</text>
</g>
<!-- SNC/GNC rows -->
<g font-size="13"><text x="2007" y="157">SNC:</text><text x="2007" y="215">GNC:</text></g>
<use href="#tau" x="2046" y="129" width="47" height="47"/>
<use href="#tau" x="2046" y="187" width="47" height="47"/>
<use href="#tau" x="2046" y="245" width="47" height="48"/>
<use href="#lie" x="2179" y="129" width="47" height="47"/>
<use href="#lie" x="2418" y="129" width="48" height="47"/>
<use href="#lie" x="2179" y="187" width="47" height="47"/>
<use href="#lie" x="2409" y="187" width="47" height="47"/>
<use href="#lie" x="2596" y="187" width="47" height="47"/>
<use href="#red" x="2128" y="245" width="47" height="48"/>
<use href="#red" x="2190" y="245" width="47" height="48"/>
<g font-family="Liberation Serif, serif" font-size="28">
<text x="2060" y="160" font-size="22" font-weight="bold" font-style="italic">τ</text>
<text x="2060" y="218" font-size="22" font-weight="bold" font-style="italic">τ</text>
<text x="2058" y="276" font-size="22" font-weight="bold" font-style="italic">τ<tspan font-size="14" font-weight="normal">*</tspan></text>
<text x="2098" y="162">= <tspan font-style="italic">ψ</tspan><tspan font-size="14" font-style="italic" baseline-shift="sub">τ*</tspan> (</text>
<text x="2230" y="162">) = <tspan font-style="italic">τ</tspan><tspan font-size="14" baseline-shift="sub">*</tspan><tspan font-size="16" baseline-shift="super">1/2</tspan>Expm(</text>
<text x="2472" y="162">)<tspan font-style="italic">τ</tspan><tspan font-size="14" baseline-shift="sub">*</tspan><tspan font-size="16" baseline-shift="super">1/2</tspan></text>
<text x="2098" y="220">= <tspan font-style="italic">ϕ</tspan><tspan font-size="14" font-style="italic" baseline-shift="sub">τ*</tspan> (</text>
<text x="2230" y="220">) = <tspan font-style="italic">A</tspan><tspan font-size="14">*</tspan>Expm(</text>
<text x="2382" y="205" font-size="18">1</text><path d="M2379 211 H2395" stroke="#000" stroke-width="1.3"/><text x="2382" y="230" font-size="18">2</text>
<text x="2468" y="220">)Expm<tspan font-size="14" font-style="italic" baseline-shift="super">T</tspan>(</text>
<text x="2570" y="205" font-size="18">1</text><path d="M2567 211 H2583" stroke="#000" stroke-width="1.3"/><text x="2570" y="230" font-size="18">2</text>
<text x="2655" y="220">)<tspan font-style="italic">A</tspan><tspan font-size="14" baseline-shift="sub">*</tspan><tspan font-size="14" font-style="italic" baseline-shift="super">T</tspan></text>
<text x="2102" y="279">=</text>
<text x="2143" y="276" font-size="14" font-style="italic">A<tspan font-size="9">*</tspan></text>
<text x="2206" y="276" font-size="14" font-style="italic">A<tspan font-size="9">*</tspan><tspan font-size="9" baseline-shift="super">T</tspan></text>
</g>
<g font-size="17">
<text x="2005" y="331" textLength="535" lengthAdjust="spacingAndGlyphs">A SNC is approximated by using a Lie-group structured GNC.</text>
<text x="2005" y="359">➤ Lie-group structure: <tspan font-weight="bold">A</tspan><tspan font-size="10">*</tspan></text>
<text x="2005" y="387">➤ Subspace of Lie-algebra: <tspan font-weight="bold" font-style="italic">η</tspan></text>
<text x="2005" y="693" textLength="498" lengthAdjust="spacingAndGlyphs">Recover NGD and Newton-like methods as special cases:</text>
</g>
<!-- Gaussian row -->
<g font-size="15">
<text x="2010" y="498">Gaussian:</text>
<text x="2270" y="494">Natural param.:</text>
<text x="2483" y="494">Expectation param.:</text>
<text x="2006" y="561">GNC:</text>
<text x="2006" y="743">Another GNC:</text>
<text x="2006" y="860">NGD:</text>
<text x="2486" y="894" textLength="206" lengthAdjust="spacingAndGlyphs">(Inverse-free 2nd-order step)</text>
<text x="2009" y="1083">Inverse-free KFAC:</text>
<text x="2463" y="1040" textLength="232" lengthAdjust="spacingAndGlyphs">(Kronecker product group)</text>
</g>
<g font-size="11">
<text x="2133" y="459">mean</text><text x="2185" y="459">precision</text>
<text x="2376" y="934" text-anchor="middle">SPD Preconditioner</text>
<text x="2008" y="1260">Lie group</text><text x="2088" y="1260">Lie group</text><text x="2243" y="1260">Lie algebra</text>
<text x="2338" y="1273">Lie group</text><text x="2432" y="1273">Lie group</text><text x="2591" y="1273">Lie algebra</text>
</g>
<g font-family="Liberation Serif, serif" font-size="30">
<text x="2097" y="505" font-style="italic">𝒩</text><text x="2128" y="508" font-size="42">(</text>
<text x="2164" y="505">,</text><text x="2232" y="508" font-size="42">)</text>
</g>
<rect x="2146" y="473" width="13" height="39" fill="#0000ff"/>
<use href="#pre" x="2186" y="469" width="44" height="39"/>
<text x="2198" y="496" font-family="Liberation Serif, serif" font-size="18" font-style="italic" fill="#333">Σ<tspan font-size="11" baseline-shift="super">-1</tspan></text>
<g transform="translate(2400 469)">
<use href="#pre" width="37" height="37"/><rect x="37" y="0" width="12" height="37" fill="#00dd00"/><rect x="0" y="37" width="37" height="12" fill="#00dd00"/><rect x="37" y="37" width="12" height="12" fill="#20a8e8"/>
<text x="12" y="27" font-family="Liberation Serif, serif" font-size="18" font-style="italic" font-weight="bold">τ<tspan font-size="11" font-weight="normal" baseline-shift="super">−1</tspan></text>
</g>
<use href="#g4" x="2646" y="469" width="49" height="49"/>
<use href="#g4" x="2052" y="530" width="49" height="50"/>
<use href="#pink" x="2204" y="530" width="49" height="50"/>
<use href="#pink" x="2441" y="530" width="49" height="50"/>
<use href="#pink" x="2607" y="530" width="49" height="50"/>
<use href="#g4" x="2052" y="588" width="53" height="53"/>
<g transform="translate(2140 588)"><rect width="52" height="53" fill="#fff" stroke="#ccc"/><rect width="40" height="40" fill="#f00"/><rect x="40" width="12" height="40" fill="#00f"/></g>
<g transform="translate(2205 588)"><rect width="53" height="53" fill="#fff" stroke="#ccc"/><rect width="40" height="40" fill="#f00"/><rect y="40" width="40" height="13" fill="#00f"/></g>
<g font-family="Liberation Serif, serif" font-size="28">
<text x="2064" y="562" font-size="22" font-weight="bold" font-style="italic">τ</text>
<text x="2064" y="621" font-size="22" font-weight="bold" font-style="italic">τ<tspan font-size="13" font-weight="normal">*</tspan></text>
<text x="2108" y="565">= <tspan font-style="italic">ϕ</tspan><tspan font-size="14" font-style="italic" baseline-shift="sub">τ*</tspan> (</text>
<text x="2260" y="565">)</text>
<text x="2288" y="565" font-size="20">= <tspan font-style="italic">A</tspan><tspan font-size="11">*</tspan>Expm(<tspan font-style="italic">D</tspan> ⊙</text>
<text x="2492" y="565" font-size="20">)Expm<tspan font-size="11" font-style="italic" baseline-shift="super">T</tspan>(<tspan font-style="italic">D</tspan> ⊙</text>
<text x="2658" y="565" font-size="20">)<tspan font-style="italic">A</tspan><tspan font-size="11" baseline-shift="sub">*</tspan><tspan font-size="11" font-style="italic" baseline-shift="super">T</tspan></text>
<text x="2110" y="624">=</text>
<text x="2150" y="620" font-size="18" font-style="italic">A<tspan font-size="10">*</tspan></text>
<text x="2215" y="620" font-size="18" font-style="italic">A<tspan font-size="10">*</tspan><tspan font-size="10" baseline-shift="super">T</tspan></text>
</g>
<!-- Another GNC -->
<use href="#g4" x="2118" y="713" width="50" height="50"/>
<text x="2130" y="742" font-family="Liberation Serif, serif" font-size="20" font-style="italic" font-weight="bold">τ</text>
<g font-family="Liberation Serif, serif">
<text x="2172" y="752" font-size="32">= <tspan font-style="italic">A</tspan><tspan font-size="16">*</tspan></text>
<text x="2244" y="760" font-size="62">(</text>
<text x="2263" y="730" font-size="8">Expm(D₁</text><use href="#pink" x="2314" y="716" width="28" height="28"/><text x="2343" y="730" font-size="12">)</text>
<rect x="2368" y="716" width="10" height="22" fill="#5a5aff"/><text x="2359" y="728" font-size="6">D₁</text>
<text x="2377" y="760" font-size="62">)(</text>
<text x="2400" y="730" font-size="8">Expm(D₁</text><use href="#pink" x="2452" y="716" width="28" height="28"/><text x="2481" y="730" font-size="12">)</text>
<rect x="2510" y="716" width="10" height="22" fill="#5a5aff"/><text x="2500" y="728" font-size="6">D₁</text>
<text x="2522" y="760" font-size="62">)</text>
<text x="2542" y="724" font-size="22" font-style="italic">T</text>
<text x="2556" y="752" font-size="32" font-style="italic">A<tspan font-size="16" font-style="normal" baseline-shift="sub">*</tspan><tspan font-size="18" baseline-shift="super">T</tspan></text>
</g>
<!-- inverse row -->
<use href="#pre" x="2096" y="789" width="40" height="40"/>
<use href="#red" x="2225" y="786" width="51" height="53"/>
<use href="#pink" x="2371" y="792" width="48" height="48"/>
<use href="#pink" x="2511" y="792" width="48" height="48"/>
<use href="#red" x="2588" y="786" width="51" height="53"/>
<g font-family="Liberation Serif, serif">
<text x="2072" y="830" font-size="40">(</text><text x="2141" y="830" font-size="40">)</text>
<text x="2154" y="808" font-size="14">−1</text><text x="2180" y="831" font-size="30">=</text>
<text x="2289" y="822" font-size="20">Expm(<tspan font-style="italic">D</tspan><tspan font-size="12">1</tspan></text><text x="2420" y="828" font-size="28">)</text>
<text x="2431" y="822" font-size="20">Expm<tspan font-size="11" font-style="italic" baseline-shift="super">T</tspan>(<tspan font-style="italic">D</tspan><tspan font-size="12">1</tspan></text><text x="2559" y="828" font-size="28">)</text>
<text x="2572" y="830" font-size="32">(</text><text x="2642" y="830" font-size="32">)</text><text x="2656" y="808" font-size="14" font-style="italic">T</text>
</g>
<!-- NGD row -->
<rect x="2111" y="869" width="13" height="40" fill="#0000ff"/>
<rect x="2229" y="869" width="13" height="40" fill="#0000ff"/>
<use href="#pre" x="2356" y="869" width="40" height="40"/>
<rect x="2442" y="869" width="13" height="40" fill="#008080"/>
<g font-family="Liberation Serif, serif">
<text x="2180" y="900" font-size="30">=</text>
<text x="2282" y="897" font-size="24">−</text>
<text x="2310" y="897" font-size="22" font-style="italic">β</text><text x="2330" y="900" font-size="34">(</text>
<text x="2400" y="900" font-size="34">)</text><text x="2414" y="877" font-size="13">−1</text>
</g>
<!-- Kronecker -->
<use href="#Cm" x="2177" y="1012" width="44" height="48"/>
<use href="#Km" x="2264" y="1009" width="58" height="60"/>
<use href="#Am" x="2369" y="1002" width="72" height="75"/>
<g font-family="Liberation Serif, serif" font-style="italic">
<text x="2190" y="1046" font-size="22">C</text>
<text x="2286" y="1046" font-size="22">K</text>
<text x="2396" y="1040" font-size="24">A</text>
<text x="2228" y="1046" font-size="26" font-style="normal">⊗</text>
<text x="2334" y="1048" font-size="34" font-style="normal">=</text>
</g>
<rect x="2183" y="1103" width="12" height="76" fill="#0000ff"/>
<rect x="2276" y="1103" width="13" height="76" fill="#0000ff"/>
<use href="#Am" x="2394" y="1097" width="73" height="69"/>
<use href="#Am" x="2519" y="1097" width="72" height="69"/>
<rect x="2646" y="1103" width="13" height="76" fill="#008080"/>
<g font-family="Liberation Serif, serif">
<text x="2228" y="1153" font-size="36">=</text>
<text x="2306" y="1146" font-size="18" fill="#888">−</text>
<text x="2346" y="1146" font-size="26" font-style="italic">β</text>
<text x="2368" y="1155" font-size="50">(</text>
<text x="2470" y="1155" font-size="50">)(</text>
<text x="2594" y="1155" font-size="50">)</text>
<text x="2616" y="1118" font-size="22" font-style="italic">T</text>
</g>
<use href="#Cm" x="2008" y="1193" width="48" height="53"/>
<use href="#Cm" x="2088" y="1193" width="48" height="53"/>
<use href="#Cl" x="2244" y="1193" width="48" height="53"/>
<use href="#Km" x="2338" y="1193" width="64" height="61"/>
<use href="#Km" x="2432" y="1193" width="62" height="61"/>
<use href="#Kl" x="2591" y="1193" width="62" height="61"/>
<g font-family="Liberation Serif, serif">
<text x="2024" y="1230" font-size="20" font-style="italic">C</text>
<text x="2104" y="1230" font-size="20" font-style="italic">C</text>
<text x="2060" y="1230" font-size="28">=</text>
<text x="2146" y="1228" font-size="28">Expm (</text>
<text x="2296" y="1232" font-size="28">) ;</text>
<text x="2360" y="1233" font-size="20" font-style="italic">K</text>
<text x="2454" y="1233" font-size="20" font-style="italic">K</text>
<text x="2405" y="1232" font-size="28">=</text>
<text x="2500" y="1228" font-size="28">Expm (</text>
<text x="2655" y="1232" font-size="28">)</text>
</g>

<!-- plots -->
<g font-size="14">
<text x="2006" y="1378" textLength="332" lengthAdjust="spacingAndGlyphs">imagenet100-repvgg_b1g4 (38.1 million-dim)</text>
<text x="2357" y="1378" textLength="339" lengthAdjust="spacingAndGlyphs">imagenet100-regnetz_500mf (6.2 million-dim)</text>
<text x="2007" y="1633" textLength="349" lengthAdjust="spacingAndGlyphs">imagenet100-convmixer180_16 (0.7 million-dim)</text>
<text x="2415" y="1633" textLength="231" lengthAdjust="spacingAndGlyphs">Metric Nearness (100 × 100-dim)</text>
</g>
<g font-size="14" font-weight="bold" text-anchor="middle">
<text x="2343" y="1607">NN optimization</text>
<text x="2171" y="1870">NN optimization</text>
<text x="2539" y="1870">SPD manifold optimization</text>
</g>
<g font-size="11" fill="#333" text-anchor="middle">
<text x="2172" y="1602">Seconds</text><text x="2527" y="1602">Seconds</text><text x="2180" y="1851">Seconds</text>
<text x="2530" y="1849" font-size="13">Iterations</text>
<text transform="translate(2021 1480) rotate(-90)">Test Error Rate</text>
<text transform="translate(2375 1480) rotate(-90)">Test Error Rate</text>
<text transform="translate(2031 1735) rotate(-90)">Test Error Rate</text>
<text transform="translate(2382 1730) rotate(-90)" font-size="13">Test Loss</text>
</g>
<g fill="#fff" stroke="#333" stroke-width="1">
<rect x="2041" y="1382" width="262" height="196"/>
<rect x="2395" y="1382" width="262" height="196"/>
<rect x="2054" y="1637" width="256" height="190"/>
<rect x="2406" y="1637" width="250" height="187"/>
</g>
<g stroke="#e4e4e4" stroke-width="1">
<path d="M2051 1382V1578M2096 1382V1578M2141 1382V1578M2185 1382V1578M2230 1382V1578M2275 1382V1578M2041 1411H2303M2041 1440H2303M2041 1469H2303M2041 1498H2303M2041 1527H2303M2041 1556H2303"/>
<path d="M2405 1382V1578M2457 1382V1578M2509 1382V1578M2561 1382V1578M2613 1382V1578M2395 1417H2657M2395 1452H2657M2395 1487H2657M2395 1522H2657M2395 1557H2657"/>
<path d="M2064 1637V1827M2108 1637V1827M2152 1637V1827M2196 1637V1827M2240 1637V1827M2284 1637V1827M2054 1675H2310M2054 1713H2310M2054 1751H2310M2054 1789H2310"/>
<path d="M2416 1637V1824M2462 1637V1824M2507 1637V1824M2553 1637V1824M2598 1637V1824M2644 1637V1824M2406 1663H2656M2406 1690H2656M2406 1717H2656M2406 1743H2656M2406 1770H2656M2406 1797H2656"/>
</g>
<g fill="none" stroke-linejoin="round">
<g transform="matrix(0.00448 0 0 -14.5 2051 1788)">
<polyline vector-effect="non-scaling-stroke" stroke="#ffa500" stroke-width="3" points="5000,28 8000,25 10000,23.5 13000,22.5 15000,20 16000,18.2 30000,18.1 48000,18.1"/>
<polyline vector-effect="non-scaling-stroke" stroke="#00ff00" stroke-width="1.5" points="4000,28 9000,24 12000,22 14000,21 16000,18.1 30000,18.2 48000,18.3"/>
<polyline vector-effect="non-scaling-stroke" stroke="#800080" stroke-width="1.5" points="12000,28 15000,27 16500,26 17500,20 25000,19 35000,18.3 48000,17.8"/>
<polyline vector-effect="non-scaling-stroke" stroke="#0000ff" stroke-width="3" points="12000,28 16000,26 18000,17.8 32000,17.7 35000,17.5 37000,17 55000,17"/>
<polyline vector-effect="non-scaling-stroke" stroke="#007f00" stroke-width="3" points="16000,28 17500,20 22000,19.5 25000,20.5 30000,20.5 31500,19.5 32000,16.3 48000,16.3"/>
<polyline vector-effect="non-scaling-stroke" stroke="#ff0000" stroke-width="3" points="17500,28 18500,20 26000,19 34000,19.3 35000,16 45000,15.8 52000,15.9"/>
</g>
<g transform="matrix(0.01042 0 0 -7 2405 1697)">
<polyline vector-effect="non-scaling-stroke" stroke="#800080" stroke-width="1.5" points="2500,45 4500,38 7000,30 8000,27 14000,25 21000,24.6"/>
<polyline vector-effect="non-scaling-stroke" stroke="#007f00" stroke-width="3" points="2000,45 3000,40 6500,36 7000,26 13500,24 14500,21.2 21000,21"/>
<polyline vector-effect="non-scaling-stroke" stroke="#0000ff" stroke-width="3" points="800,45 2000,33 4000,27 6500,25.5 7200,20 23000,20"/>
<polyline vector-effect="non-scaling-stroke" stroke="#ffa500" stroke-width="3" points="1200,45 3000,35 5000,30 7000,26 7200,19.5 21000,19.5"/>
<polyline vector-effect="non-scaling-stroke" stroke="#ff0000" stroke-width="3" points="1000,45 2500,35 5000,30 6800,29 7200,20 14000,19.5 15000,18.5 21000,18.2"/>
<polyline vector-effect="non-scaling-stroke" stroke="#00ff00" stroke-width="1.5" points="1000,45 2000,33 6000,24.5 6700,40 7200,19 21000,18.8"/>
</g>
<g transform="matrix(0.00441 0 0 -19 2064 2169)">
<polyline vector-effect="non-scaling-stroke" stroke="#0000ff" stroke-width="3" points="12000,28 15000,26 17000,23.5 20000,22 32000,21.5 36000,20.8 53000,20.8"/>
<polyline vector-effect="non-scaling-stroke" stroke="#007f00" stroke-width="3" points="16000,28 17000,25 25000,24.5 33000,24 34000,20.5 50000,20.5"/>
<polyline vector-effect="non-scaling-stroke" stroke="#ffa500" stroke-width="3" points="16000,28 17000,24.5 30000,24 50000,23.3"/>
<polyline vector-effect="non-scaling-stroke" stroke="#00ff00" stroke-width="1.5" points="16000,28 18000,24 30000,23.8 32000,22.5 50000,22.3"/>
<polyline vector-effect="non-scaling-stroke" stroke="#800080" stroke-width="1.5" points="16000,28 18000,24.5 34000,23 50000,22.8"/>
<polyline vector-effect="non-scaling-stroke" stroke="#ff0000" stroke-width="3" points="17000,28 20000,25.5 30000,25 35000,24.5 36000,19 40000,18.7 53000,18.8"/>
</g>
<g transform="matrix(0.00228 0 0 -13.4 2416 1716.4)">
<polyline vector-effect="non-scaling-stroke" stroke="#ffff80" stroke-width="4" points="0,6 1500,2.5 3000,1.7 55000,1.7 62000,0 69000,-8"/>
<polyline vector-effect="non-scaling-stroke" stroke="#d4a000" stroke-width="1.2" points="0,6 1500,2.5 3000,1.7 55000,1.7 62000,0 69000,-8"/>
<polyline vector-effect="non-scaling-stroke" stroke="#ff9020" stroke-width="3" points="0,6 1500,2.5 3000,1.6 40000,1.6 47000,0 53000,-8"/>
<polyline vector-effect="non-scaling-stroke" stroke="#2020e0" stroke-width="1.5" points="0,6 1500,2.5 3000,1.6 40000,1.6 47000,0 53000,-8"/>
</g>
</g>
<!-- legends -->
<g fill="#fff" stroke="#ddd">
<rect x="2200" y="1388" width="97" height="121"/>
<rect x="2555" y="1388" width="95" height="121"/>
<rect x="2061" y="1703" width="87" height="117"/>
<rect x="2441" y="1644" width="208" height="129"/>
</g>
<g stroke-width="3">
<path d="M2204 1399h30" stroke="#0000ff"/><path d="M2204 1419h30" stroke="#007f00"/><path d="M2204 1438h30" stroke="#ffa500"/><path d="M2204 1458h30" stroke="#ff0000"/><path d="M2204 1477h30" stroke="#00ff00" stroke-width="1.5"/><path d="M2204 1497h30" stroke="#800080" stroke-width="1.5"/>
<path d="M2559 1399h30" stroke="#0000ff"/><path d="M2559 1419h30" stroke="#007f00"/><path d="M2559 1438h30" stroke="#ffa500"/><path d="M2559 1458h30" stroke="#ff0000"/><path d="M2559 1477h30" stroke="#00ff00" stroke-width="1.5"/><path d="M2559 1497h30" stroke="#800080" stroke-width="1.5"/>
<path d="M2065 1714h30" stroke="#0000ff"/><path d="M2065 1733h30" stroke="#007f00"/><path d="M2065 1752h30" stroke="#ffa500"/><path d="M2065 1771h30" stroke="#ff0000"/><path d="M2065 1789h30" stroke="#00ff00" stroke-width="1.5"/><path d="M2065 1809h30" stroke="#800080" stroke-width="1.5"/>
<path d="M2446 1655h32" stroke="#7fbf7f" stroke-width="5"/><path d="M2446 1676h32" stroke="#ffd0d8" stroke-width="5"/><path d="M2446 1696h32" stroke="#f08080" stroke-width="5"/><path d="M2446 1717h32" stroke="#ffff80" stroke-width="5"/><path d="M2446 1738h32" stroke="#ff9020" stroke-width="2"/><path d="M2446 1758h32" stroke="#2020e0" stroke-width="2"/>
</g>
<g font-size="12">
<text x="2240" y="1403">kfac</text><text x="2240" y="1423">sgd</text><text x="2240" y="1442">adamw</text><text x="2240" y="1462">our</text><text x="2240" y="1481">lion</text><text x="2240" y="1501">adam</text>
<text x="2595" y="1403">kfac</text><text x="2595" y="1423">sgd</text><text x="2595" y="1442">adamw</text><text x="2595" y="1462">our</text><text x="2595" y="1481">lion</text><text x="2595" y="1501">adam</text>
<text x="2101" y="1718">kfac</text><text x="2101" y="1737">sgd</text><text x="2101" y="1756">adamw</text><text x="2101" y="1775">our</text><text x="2101" y="1793">lion</text><text x="2101" y="1813">adam</text>
<text x="2486" y="1659">Alimisis et al. 2020</text><text x="2486" y="1680">Alimisis et al. 2021</text><text x="2486" y="1700">Our (with momentum)</text><text x="2486" y="1721">Lin et al. 2021</text><text x="2486" y="1742">RGD</text><text x="2486" y="1762">Ahn &amp; Sra 2020</text>
</g>
<g font-size="7" fill="#444" text-anchor="middle">
<text x="2051" y="1587">0</text><text x="2096" y="1587">10000</text><text x="2141" y="1587">20000</text><text x="2185" y="1587">30000</text><text x="2230" y="1587">40000</text><text x="2275" y="1587">50000</text>
<text x="2405" y="1587">0</text><text x="2457" y="1587">5000</text><text x="2509" y="1587">10000</text><text x="2561" y="1587">15000</text><text x="2613" y="1587">20000</text>
<text x="2064" y="1836">0</text><text x="2108" y="1836">10000</text><text x="2152" y="1836">20000</text><text x="2196" y="1836">30000</text><text x="2240" y="1836">40000</text><text x="2284" y="1836">50000</text>
<text x="2416" y="1833">0</text><text x="2462" y="1833">20000</text><text x="2507" y="1833">40000</text><text x="2553" y="1833">60000</text><text x="2598" y="1833">80000</text><text x="2644" y="1833">100000</text>
</g>
</svg>
</body></html>
